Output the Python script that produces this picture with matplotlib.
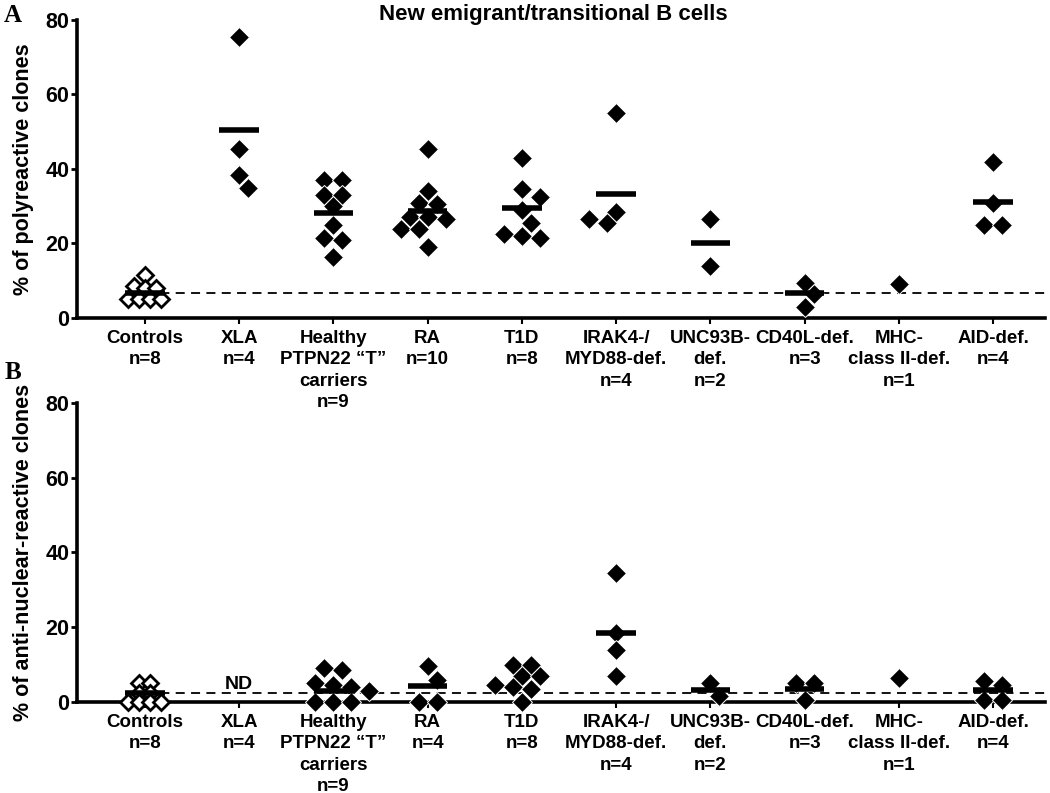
import numpy as np
import matplotlib
matplotlib.use('Agg')
import matplotlib.pyplot as plt

plt.rcParams['font.family'] = ['Liberation Sans', 'DejaVu Sans']
plt.rcParams['font.weight'] = 'bold'

# group labels
labels_a = ['Controls\nn=8', 'XLA\nn=4', 'Healthy\nPTPN22 \u201cT\u201d\ncarriers\nn=9',
            'RA\nn=10', 'T1D\nn=8', 'IRAK4-/\nMYD88-def.\nn=4', 'UNC93B-\ndef.\nn=2',
            'CD40L-def.\nn=3', 'MHC-\nclass II-def.\nn=1', 'AID-def.\nn=4']
labels_b = list(labels_a)
labels_b[3] = 'RA\nn=4'

# panel A: % polyreactive clones
poly = [
    [11.5, 8.5, 8, 8, 5, 5, 5, 5],
    [75.5, 45.5, 38.5, 35],
    [37, 37, 33, 33, 30, 25, 21.5, 21, 16.5],
    [45.5, 34, 31, 30.5, 27, 27, 26.5, 24, 24, 19],
    [43, 34.5, 32.5, 29, 25.5, 22.5, 22, 21.5],
    [55, 28.5, 26.5, 25.5],
    [26.5, 14],
    [9.5, 6.5, 3],
    [9],
    [42, 31, 25, 25],
]
poly_mean = [6.7, 50.5, 28.3, 28.8, 29.4, 33.2, 20.2, 6.6, np.nan, 31.1]

# panel B: % anti-nuclear clones (XLA not done)
ana = [
    [5, 5, 2.5, 2.5, 0, 0, 0, 0],
    [],
    [9, 8.5, 5, 4.5, 4, 3, 0, 0, 0],
    [9.5, 6, 0, 0],
    [10, 10, 7, 7, 4.5, 4, 3.5, 0],
    [34.5, 18.5, 14, 7],
    [5, 1.5],
    [5, 5, 0.5],
    [6.3],
    [5.5, 4.5, 0.5, 0.5],
]
ana_mean = [2.3, np.nan, 3.0, 4.3, np.nan, 18.4, 3.2, 3.5, np.nan, 3.2]


def swarm(ax, vals, d_row, d_col):
    # prism-like scatter: rows of near-equal values, centred, nudged sideways on collision
    vals = np.asarray(vals, float)
    n = len(vals)
    if n == 0:
        return np.zeros(0)
    t = ax.transData
    ypx = t.transform(np.column_stack([np.zeros(n), vals]))[:, 1]
    xs_unit = t.transform([[1, 0]])[0, 0] - t.transform([[0, 0]])[0, 0]
    order = np.argsort(-vals, kind='stable')
    rows = []
    for i in order:
        if rows and abs(ypx[rows[-1][0]] - ypx[i]) < 0.4 * d_col:
            rows[-1].append(i)
        else:
            rows.append([i])
    placed = []
    offs = np.zeros(n)
    for row in rows:
        k = len(row)
        base = (np.arange(k) - (k - 1) / 2) * d_row
        for s in range(0, 20):
            step = (s + 1) // 2 * (1 if s % 2 else -1)
            xs = base + step * d_row / 2
            ok = True
            for x, i in zip(xs, row):
                for px, py in placed:
                    if np.hypot(x - px, ypx[i] - py) < d_col:
                        ok = False
                        break
                if not ok:
                    break
            if ok:
                break
        for x, i in zip(xs, row):
            offs[i] = x
            placed.append((x, ypx[i]))
    return offs / xs_unit


fig = plt.figure(figsize=(10.5, 7.93), dpi=100)
ax_a = fig.add_axes([0.0733, 0.599, 0.922, 0.3758])
ax_b = fig.add_axes([0.0733, 0.1148, 0.922, 0.377])

def draw_panel(ax, data, means, labels, ylabel):
    ax.patch.set_visible(False)
    ax.set_xlim(-0.72, 9.55)
    ax.set_ylim(0, 80)
    ax.set_yticks([0, 20, 40, 60, 80])
    ax.set_xticks(range(len(labels)))
    ax.set_xticklabels(labels, fontsize=13.5, fontweight='bold', linespacing=1.34)
    for lab in ax.get_yticklabels():
        lab.set_fontsize(15.5)
        lab.set_fontweight('bold')
    ax.tick_params(axis='y', length=4, width=2, pad=1.5)
    ax.tick_params(axis='x', length=4, width=1.5, pad=4.5)
    for side in ['top', 'right']:
        ax.spines[side].set_visible(False)
    ax.spines['left'].set_linewidth(2.6)
    ax.spines['bottom'].set_linewidth(2.6)
    ax.set_ylabel(ylabel, fontsize=15.5, fontweight='bold')
    ax.yaxis.set_label_coords(-0.044, 0.5)

    # reference line at control mean
    ax.plot([0, 9.55], [means[0], means[0]], color='black', lw=1.3,
            linestyle=(0, (5, 3.5)), zorder=1, clip_on=False)

    for i, vals in enumerate(data):
        if len(vals) == 0:
            continue
        if i == 0:
            offs = swarm(ax, vals, 11, 9)
            ax.plot(i + offs, vals, 'D', ms=8.5, mfc='white', mec='black', mew=2,
                    linestyle='none', zorder=3, clip_on=False)
        else:
            offs = swarm(ax, vals, 18, 14)
            ax.plot(i + offs, vals, 'D', ms=10.5, mfc='black', mec='white', mew=0.7,
                    linestyle='none', zorder=3, clip_on=False)
    for i, m in enumerate(means):
        if not np.isnan(m):
            ax.hlines(m, i - 0.21, i + 0.21, color='black', lw=4, zorder=4)


draw_panel(ax_a, poly, poly_mean, labels_a, '% of polyreactive clones')
draw_panel(ax_b, ana, ana_mean, labels_b, '% of anti-nuclear-reactive clones')

ax_b.text(1, 4.8, 'ND', ha='center', va='center', fontsize=14, fontweight='bold')

fig.text(0.527, 0.995, 'New emigrant/transitional B cells', ha='center', va='top',
         fontsize=16, fontweight='bold')
fig.text(0.004, 0.995, 'A', ha='left', va='top', fontsize=18, fontweight='bold',
         family='Liberation Serif')
fig.text(0.004, 0.545, 'B', ha='left', va='top', fontsize=18, fontweight='bold',
         family='Liberation Serif')

fig.savefig('out.png', dpi=100)
